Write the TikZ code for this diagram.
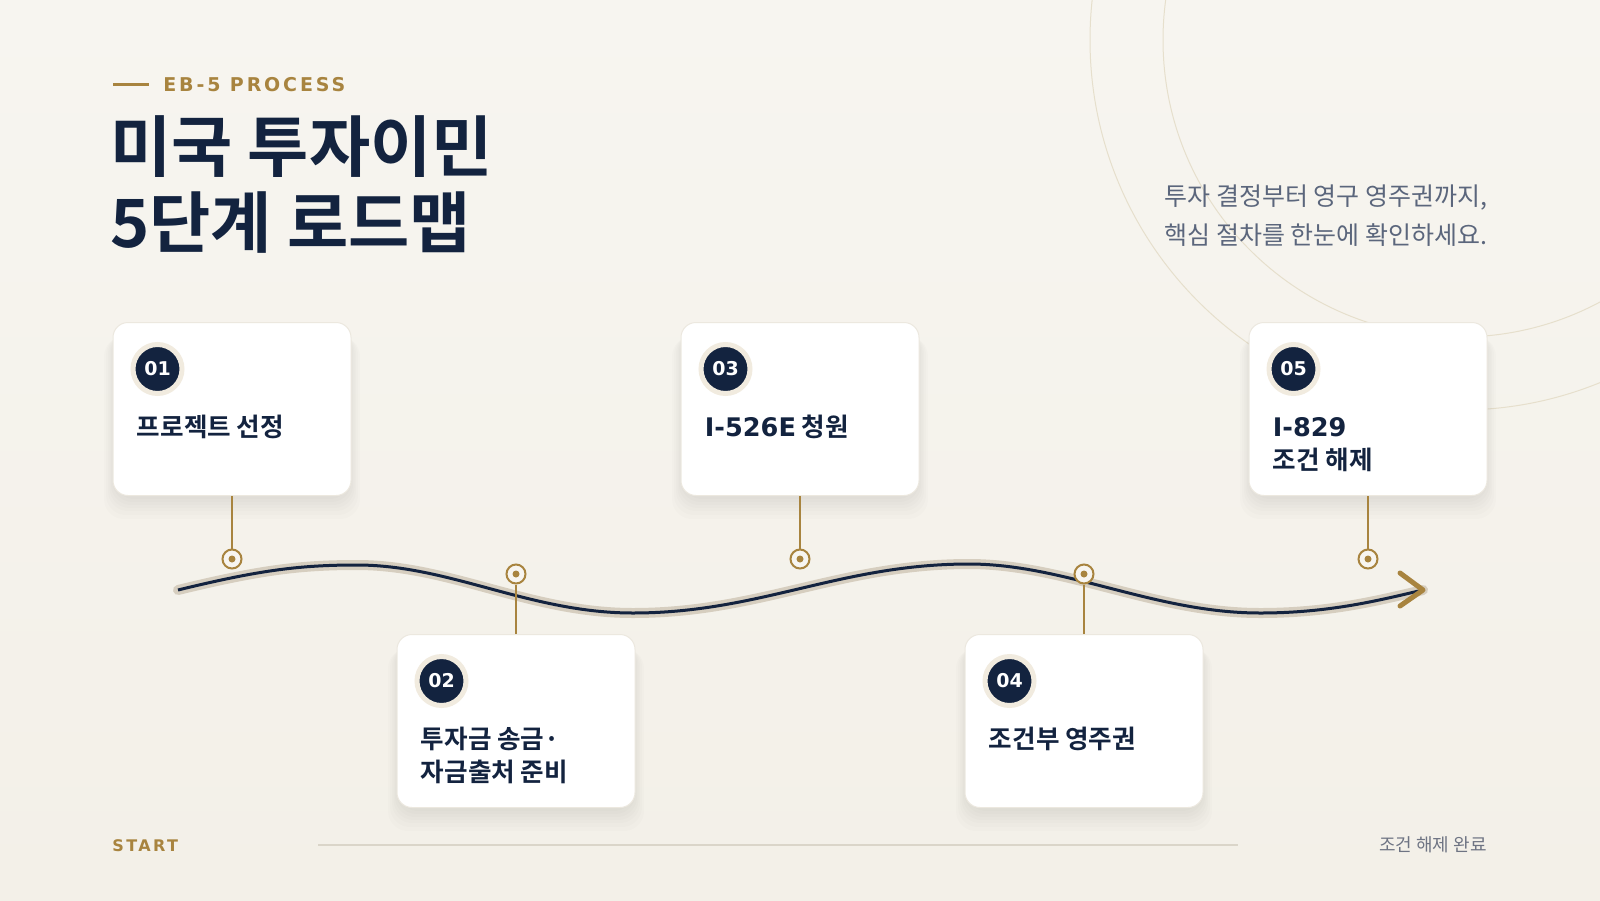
\documentclass[tikz,border=0pt]{standalone}
\usepackage{fontspec}
\setmainfont{Noto Sans CJK KR}[BoldFont=Noto Sans CJK KR Bold]
\newfontfamily\krbold{Noto Sans CJK KR Bold}
\newfontfamily\titlefont{Noto Sans CJK KR Bold}
\newfontfamily\numfont{DejaVu Sans Bold}
\newfontfamily\capsfont{DejaVu Sans Bold}[LetterSpace=15]
\usetikzlibrary{calc}
\definecolor{navy}{HTML}{13233F}
\definecolor{gold}{HTML}{A8843F}
\definecolor{bgtop}{HTML}{F7F5F0}
\definecolor{bgbot}{HTML}{F3F0E8}
\definecolor{wavebed}{HTML}{D6CEBF}
\definecolor{ringcol}{HTML}{F1EBDF}
\definecolor{cardline}{HTML}{ECE8DF}
\definecolor{arcline}{HTML}{E6DFCC}
\definecolor{subtext}{HTML}{5B667C}
\definecolor{greytext}{HTML}{6E7483}
\definecolor{rulecol}{HTML}{DAD5C9}
\begin{document}
\begin{tikzpicture}[x=0.5pt, y=-0.5pt,
  card/.style={rectangle, rounded corners=7.5pt, fill=white, draw=cardline, line width=0.5pt,
    minimum width=119pt, minimum height=86.5pt},
  haze/.style={fill=black, opacity=0.011, rounded corners=10pt},
  badge/.style={circle, fill=navy, draw=ringcol, line width=2.5pt, minimum size=24.5pt, inner sep=0pt,
    text=white, font=\numfont\fontsize{9.5}{11}\selectfont},
  steptext/.style={anchor=base west, inner sep=0pt, text=navy, font=\krbold\fontsize{12.8}{15}\selectfont},
  marker/.style={circle, draw=gold, line width=1pt, fill=bgtop, minimum size=9.5pt, inner sep=0pt},
  dot/.style={circle, fill=gold, minimum size=3.5pt, inner sep=0pt},
  stem/.style={draw=gold, line width=0.75pt}]
  \useasboundingbox (0,0) rectangle (1600,900);
  \fill[top color=bgtop, bottom color=bgbot] (0,0) rectangle (1600,900);
  % rings top right
  \begin{scope}
    \clip (0,0) rectangle (1600,900);
    \draw[arcline, line width=0.5pt] (1460,40) circle (297);
    \draw[arcline, line width=0.5pt] (1460,40) circle (370);
  \end{scope}
  % heading
  \draw[gold, line width=1.5pt] (113,84) -- (149,84);
  \node[anchor=base west, inner sep=0pt, text=gold, font=\capsfont\fontsize{9.5}{11}\selectfont] (kicker) at (163,91) {EB-5 PROCESS};
  \node[anchor=west, inner sep=0pt, align=left, text=navy, font=\titlefont\fontsize{33.3}{38}\selectfont] (title) at (110,184) {미국 투자이민\\5단계 로드맵};
  \node[anchor=west, inner sep=0pt, align=left, text=subtext, font=\fontsize{12.5}{19.5}\selectfont] (lead) at (1164,216) {투자 결정부터 영구 영주권까지,\\핵심 절차를 한눈에 확인하세요.};
  % wave
  \coordinate (w0) at (178,590);
  \coordinate (w1) at (1423,590);
  \foreach \col/\lw/\cp in {wavebed/5pt/round, navy/1.5pt/butt}
    \draw[\col, line width=\lw, line cap=\cp] (w0) .. controls (260,570) and (300,565) .. (357,565)
      .. controls (450,565) and (530,613) .. (633,613)
      .. controls (760,613) and (840,564) .. (969,564)
      .. controls (1065,564) and (1155,613) .. (1260,613)
      .. controls (1330,613) and (1380,600) .. (w1);
  \draw[gold, line width=2.5pt, line cap=round, line join=round] (1400,573) -- (w1) -- (1400,606);
  % steps
  \foreach \n/\x/\y/\my/\ta/\tb in {
      01/232/409/559/{프로젝트 선정}/{},
      02/516/721/574/{투자금 송금·}/{자금출처 준비},
      03/800/409/559/{{\numfont I-526E} 청원}/{},
      04/1084/721/574/{조건부 영주권}/{},
      05/1368/409/559/{\numfont I-829}/{조건 해제}} {
    \foreach \g in {2,5,8,11,14,18,22}
      \fill[haze] ({\x-117-\g/2},{\y-80+\g/3}) rectangle ({\x+117+\g/2},{\y+88+\g});
    \node[card] (c\n) at (\x,\y) {};
    \node[badge] (b\n) at ($(c\n.north west)+(45,47)$) {\n};
    \node[steptext] (t\n) at ($(c\n.north west)+(24,114)$) {\ta};
    \node[steptext] (u\n) at ($(c\n.north west)+(24,147)$) {\tb};
    \node[marker] (m\n) at (\x,\my) {};
    \node[dot] at (m\n) {};
    \draw[stem] (c\n) -- (m\n);
  }
  % footer
  \node[anchor=base west, inner sep=0pt, text=gold, font=\capsfont\fontsize{8}{10}\selectfont] (start) at (112,851) {START};
  \node[anchor=base east, inner sep=0pt, text=greytext, font=\fontsize{9}{10}\selectfont] (finish) at (1487,851) {조건 해제 완료};
  \coordinate (r0) at (318,845);
  \coordinate (r1) at (1238,845);
  \draw[rulecol, line width=1pt] (r0) -- (r1);
\end{tikzpicture}
\end{document}
